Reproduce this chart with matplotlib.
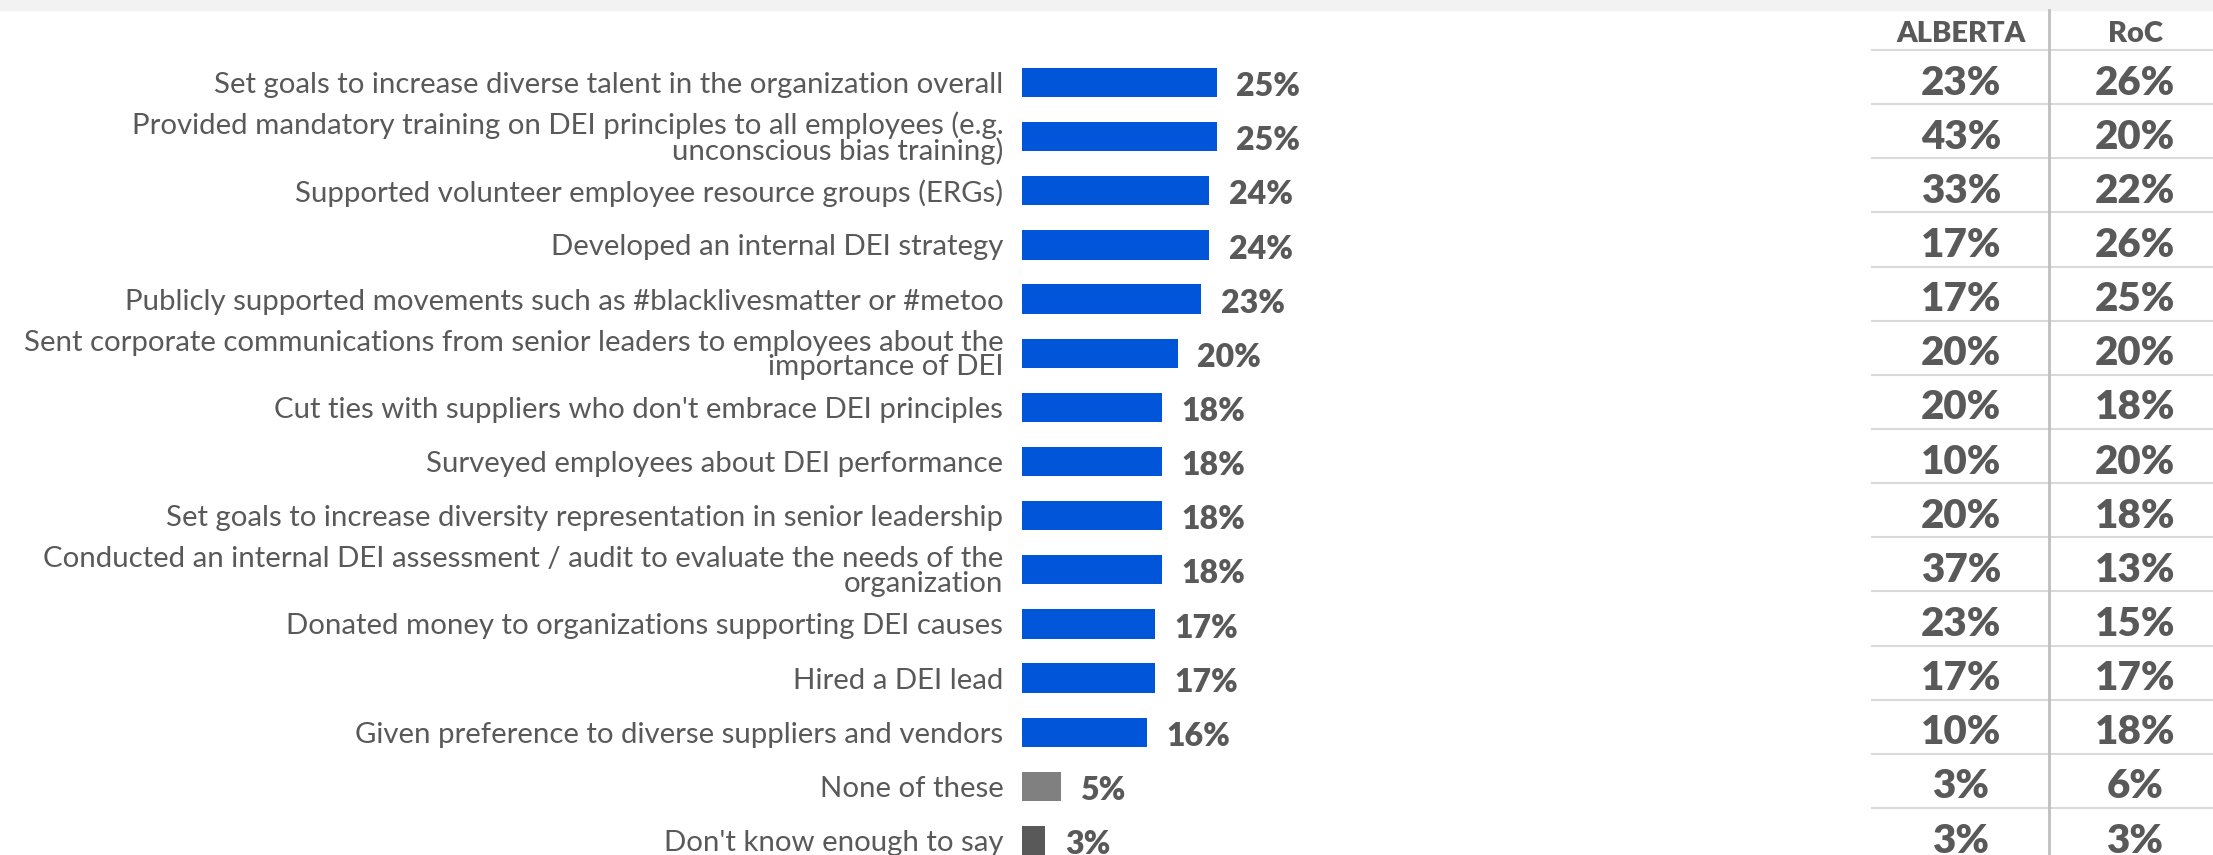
import matplotlib.pyplot as plt
import matplotlib.transforms as mtransforms
from matplotlib.patches import Rectangle

# DEI actions taken, total share plus Alberta vs rest of Canada
actions = [
    "Set goals to increase diverse talent in the organization overall",
    "Provided mandatory training on DEI principles to all employees (e.g.\nunconscious bias training)",
    "Supported volunteer employee resource groups (ERGs)",
    "Developed an internal DEI strategy",
    "Publicly supported movements such as #blacklivesmatter or #metoo",
    "Sent corporate communications from senior leaders to employees about the\nimportance of DEI",
    "Cut ties with suppliers who don't embrace DEI principles",
    "Surveyed employees about DEI performance",
    "Set goals to increase diversity representation in senior leadership",
    "Conducted an internal DEI assessment / audit to evaluate the needs of the\norganization",
    "Donated money to organizations supporting DEI causes",
    "Hired a DEI lead",
    "Given preference to diverse suppliers and vendors",
    "None of these",
    "Don't know enough to say",
]
total = [25, 25, 24, 24, 23, 20, 18, 18, 18, 18, 17, 17, 16, 5, 3]
alberta = [23, 43, 33, 17, 17, 20, 20, 10, 20, 37, 23, 17, 10, 3, 3]
roc = [26, 20, 22, 26, 25, 20, 18, 20, 18, 13, 15, 17, 18, 6, 3]
columns = ["ALBERTA", "RoC"]

BLUE = "#0055d9"
TEXT = "#595959"
bar_colors = [BLUE] * 13 + ["#808080", "#595959"]

W, H = 2213, 855
fig = plt.figure(figsize=(W / 100, H / 100), dpi=100)
fig.patches.append(Rectangle((0, 1 - 10 / H), 1, 10 / H, transform=fig.transFigure,
                             color="#f2f2f2", zorder=0))

# axes placed so each row is ~54 px tall, first row centred at y=82 px
row_h = 54.14
top_px = 82.5 - row_h / 2
bot_px = top_px + row_h * len(actions)
ax = fig.add_axes([1022 / W, (H - bot_px) / H, 780 / W, (bot_px - top_px) / H])
ax.set_xlim(0, 100)
ax.set_ylim(len(actions) - 0.5, -0.5)
for s in ax.spines.values():
    s.set_visible(False)
ax.set_xticks([])

ypos = list(range(len(actions)))
ax.barh(ypos, total, height=0.54, color=bar_colors)
for y, v in zip(ypos, total):
    ax.annotate(f"{v}%", (v, y), xytext=(14, -3), textcoords="offset points",
                va="center", ha="left", fontsize=23, fontweight="heavy",
                family="Lato", color=TEXT)

ax.set_yticks(ypos, actions)
ax.tick_params(axis="y", length=0, pad=13.5)
for lbl in ax.get_yticklabels():
    lbl.set_family("Lato")
    lbl.set_fontsize(21.2)
    lbl.set_color(TEXT)
    lbl.set_linespacing(0.92)

# comparison table on the right
tr = mtransforms.blended_transform_factory(fig.transFigure, ax.transData)
col_x = [1961 / W, 2135 / W]
for cx, name in zip(col_x, columns):
    ax.text(cx, -0.89, name, transform=tr, ha="center", va="center",
            fontsize=21, fontweight="heavy", family="Lato", color=TEXT, clip_on=False)
for y, a, r in zip(ypos, alberta, roc):
    for cx, v in zip(col_x, (a, r)):
        ax.text(cx, y + 0.01, f"{v}%", transform=tr, ha="center", va="center",
                fontsize=29, fontweight="heavy", family="Lato", color=TEXT, clip_on=False)
    ax.plot([1872 / W, 1.0], [y - 0.6, y - 0.6], transform=tr, color="#d9d9d9",
            lw=1.5, clip_on=False)
fig.add_artist(plt.Line2D([2049 / W, 2049 / W], [0, 1 - 10 / H], transform=fig.transFigure,
                          color="#bfbfbf", lw=2))

fig.savefig("out.png", dpi=100)
